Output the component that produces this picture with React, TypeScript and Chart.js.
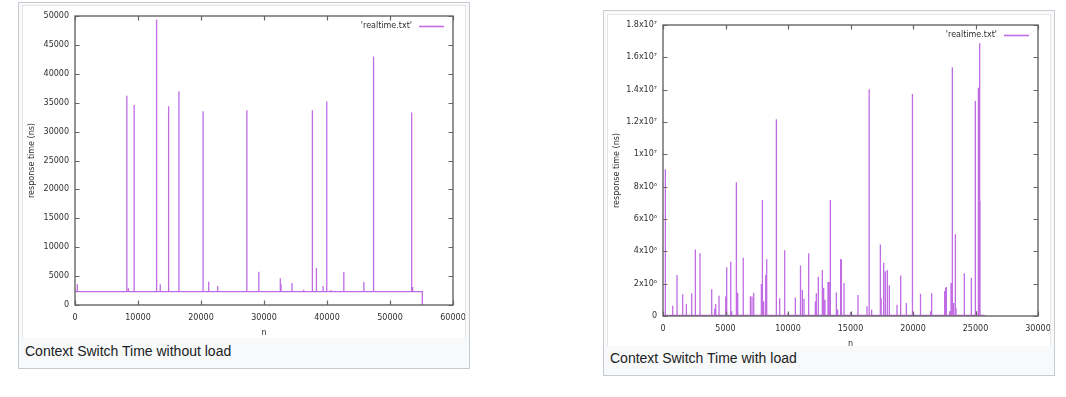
import React, { useEffect, useRef } from 'react';
import { Chart, registerables } from 'chart.js';

Chart.register(...registerables);

// ---------- Data: "Context Switch Time without load" ----------
const LEFT_SPIKE_N = [0, 370, 8230, 8490, 9390, 12950, 13530, 14860, 16500, 20330, 21220, 22650, 27280, 29180, 32590, 32700, 34440, 36300, 37680, 38320, 39370, 39960, 40650, 42670, 45850, 47340, 47420, 48350, 49570, 53440, 53600];
const LEFT_SPIKE_NS = [2800, 3580, 36200, 2900, 34600, 49400, 3600, 34400, 37000, 33500, 4030, 3290, 33700, 5760, 4610, 3600, 3800, 2650, 33700, 6400, 3300, 35200, 2600, 5700, 4000, 43000, 33400, 2400, 2400, 33300, 3100];
const LEFT_BASELINE_NS = 2300;
const LEFT_LAST_N = 55130;
const LEFT_X_TICKS = ['0', '10000', '20000', '30000', '40000', '50000', '60000'];
const LEFT_Y_TICKS = ['0', '5000', '10000', '15000', '20000', '25000', '30000', '35000', '40000', '45000', '50000'];

// ---------- Data: "Context Switch Time with load" ----------
const RIGHT_SPIKE_N = [190, 776, 1120, 1576, 1870, 2296, 2590, 2960, 3896, 4136, 4216, 4480, 5016, 5096, 5416, 5500, 5870, 5976, 6400, 6432, 6992, 7120, 7256, 7870, 7952, 8056, 8216, 8296, 9070, 9336, 9736, 10000, 10587, 10980, 11013, 11147, 11280, 11653, 12187, 12267, 12427, 12747, 12853, 12960, 13200, 13280, 13387, 13867, 13973, 14213, 14270, 14480, 15013, 15600, 16320, 16480, 16500, 16693, 17387, 17450, 17653, 17787, 17947, 18107, 18720, 19013, 19467, 19947, 19960, 20600, 21413, 21493, 22533, 22613, 22667, 22933, 23040, 23147, 23250, 23387, 23440, 24107, 24667, 24987, 25080, 25200, 25253, 25333, 25360];
const RIGHT_SPIKE_NS = [9.07e6, 0.64e6, 2.54e6, 1.34e6, 0.74e6, 1.4e6, 4.12e6, 3.88e6, 1.65e6, 0.45e6, 0.74e6, 1.26e6, 1.2e6, 3.01e6, 3.36e6, 0.3e6, 8.27e6, 1.44e6, 0.6e6, 3.61e6, 1.22e6, 1.2e6, 1.44e6, 1.98e6, 7.18e6, 0.9e6, 2.54e6, 3.53e6, 1.217e7, 1.1e6, 4.06e6, 0.2e6, 1.15e6, 0.4e6, 3.12e6, 1.61e6, 1.07e6, 3.88e6, 0.9e6, 1.4e6, 2.43e6, 2.85e6, 1.74e6, 1.0e6, 2.1e6, 2.1e6, 7.18e6, 1.46e6, 0.4e6, 3.53e6, 3.5e6, 2.04e6, 0.25e6, 1.3e6, 0.6e6, 1.402e7, 9.59e6, 0.4e6, 4.43e6, 1.1e6, 3.3e6, 2.77e6, 2.85e6, 1.9e6, 0.7e6, 2.5e6, 0.8e6, 1.373e7, 4.3e6, 1.38e6, 0.3e6, 1.4e6, 1.55e6, 1.74e6, 1.8e6, 0.3e6, 2.04e6, 1.538e7, 0.8e6, 5.05e6, 0.5e6, 2.64e6, 2.36e6, 1.33e7, 0.3e6, 2.4e6, 1.412e7, 1.687e7, 7.1e6];
const RIGHT_BASELINE_NS = 30000;
const RIGHT_LAST_N = 25733;
const RIGHT_X_TICKS = ['0', '5000', '10000', '15000', '20000', '25000', '30000'];
const RIGHT_Y_TICKS = ['0', '2x10⁶', '4x10⁶', '6x10⁶', '8x10⁶', '1x10⁷', '1.2x10⁷', '1.4x10⁷', '1.6x10⁷', '1.8x10⁷'];

const SERIES_LABEL = "'realtime.txt'";
const LINE_COLOR = 'rgba(148, 0, 211, 0.58)';
const TEXT_COLOR = '#2e2e2e';
const AXIS_FONT = { family: '"DejaVu Sans", sans-serif', size: 8 };

function buildSeries(xs: number[], ys: number[], base: number, lastN: number, dropToZero: boolean) {
  const pts: { x: number; y: number }[] = [{ x: 0, y: base }];
  xs.forEach((x, i) => {
    pts.push({ x, y: base }, { x, y: ys[i] }, { x, y: base });
  });
  pts.push({ x: lastN, y: base });
  if (dropToZero) pts.push({ x: lastN, y: 0 });
  return pts;
}

const gnuplotFrame = {
  id: 'gnuplotFrame',
  afterDraw(chart: any) {
    const { ctx, chartArea, scales } = chart;
    const { left, right, top, bottom } = chartArea;
    const xs = scales.x;
    const ys = scales.y;
    const tl = 4.5;
    ctx.save();
    ctx.strokeStyle = '#666666';
    ctx.lineWidth = 1.2;
    ctx.beginPath();
    xs.ticks.forEach((t: any) => {
      const px = Math.round(xs.getPixelForValue(t.value)) + 0.5;
      ctx.moveTo(px, bottom);
      ctx.lineTo(px, bottom - tl);
      ctx.moveTo(px, top);
      ctx.lineTo(px, top + tl);
    });
    ys.ticks.forEach((t: any) => {
      const py = Math.round(ys.getPixelForValue(t.value)) + 0.5;
      ctx.moveTo(left, py);
      ctx.lineTo(left + tl, py);
      ctx.moveTo(right, py);
      ctx.lineTo(right - tl, py);
    });
    ctx.stroke();
    ctx.lineWidth = 1.4;
    ctx.strokeRect(left, top, right - left, bottom - top);

    const ds = chart.data.datasets[0];
    const ly = top + 10;
    ctx.font = '8px "DejaVu Sans", sans-serif';
    ctx.fillStyle = TEXT_COLOR;
    ctx.textAlign = 'right';
    ctx.textBaseline = 'middle';
    ctx.fillText(ds.label, right - 41, ly);
    ctx.strokeStyle = ds.borderColor;
    ctx.lineWidth = 1.6;
    ctx.beginPath();
    ctx.moveTo(right - 34, ly + 0.5);
    ctx.lineTo(right - 9, ly + 0.5);
    ctx.stroke();
    ctx.restore();
  },
};

interface Spec {
  points: { x: number; y: number }[];
  xMax: number;
  xStep: number;
  xLabels: string[];
  yMax: number;
  yStep: number;
  yLabels: string[];
  yAxisWidth: number;
  xAxisHeight: number;
  yTitlePad: number;
  xTitlePad: number;
  xTickPad: number;
  width: number;
  height: number;
}

function makeConfig(s: Spec): any {
  return {
    type: 'line',
    data: {
      datasets: [
        {
          label: SERIES_LABEL,
          data: s.points,
          borderColor: LINE_COLOR,
          borderWidth: 1.3,
          pointRadius: 0,
          tension: 0,
          fill: false,
        },
      ],
    },
    options: {
      animation: false,
      responsive: false,
      maintainAspectRatio: false,
      devicePixelRatio: 1,
      layout: { padding: { left: 0, top: 11, right: s.width - 431, bottom: 0 } },
      plugins: { legend: { display: false }, tooltip: { enabled: false } },
      scales: {
        x: {
          type: 'linear',
          min: 0,
          max: s.xMax,
          grid: { display: false, drawTicks: false, tickLength: 0 },
          border: { display: false },
          ticks: {
            stepSize: s.xStep,
            autoSkip: false,
            maxRotation: 0,
            padding: s.xTickPad,
            color: TEXT_COLOR,
            font: AXIS_FONT,
            callback: (_v: any, i: number) => s.xLabels[i],
          },
          title: { display: true, text: 'n', color: TEXT_COLOR, font: AXIS_FONT, padding: { top: 0, bottom: s.xTitlePad } },
          afterFit: (sc: any) => {
            sc.height = s.xAxisHeight;
          },
        },
        y: {
          type: 'linear',
          min: 0,
          max: s.yMax,
          grid: { display: false, drawTicks: false, tickLength: 0 },
          border: { display: false },
          ticks: {
            stepSize: s.yStep,
            autoSkip: false,
            padding: 6,
            color: TEXT_COLOR,
            font: AXIS_FONT,
            callback: (_v: any, i: number) => s.yLabels[i],
          },
          title: { display: true, text: 'response time (ns)', color: TEXT_COLOR, font: AXIS_FONT, padding: { top: s.yTitlePad, bottom: 0 } },
          afterFit: (sc: any) => {
            sc.width = s.yAxisWidth;
          },
        },
      },
    },
    plugins: [gnuplotFrame],
  };
}

const LEFT_SPEC: Spec = {
  points: buildSeries(LEFT_SPIKE_N, LEFT_SPIKE_NS, LEFT_BASELINE_NS, LEFT_LAST_N, true),
  xMax: 60000,
  xStep: 10000,
  xLabels: LEFT_X_TICKS,
  yMax: 50000,
  yStep: 5000,
  yLabels: LEFT_Y_TICKS,
  yAxisWidth: 53,
  xAxisHeight: 33,
  yTitlePad: 5,
  xTitlePad: 0,
  xTickPad: 8,
  width: 470,
  height: 333,
};

const RIGHT_SPEC: Spec = {
  points: buildSeries(RIGHT_SPIKE_N, RIGHT_SPIKE_NS, RIGHT_BASELINE_NS, RIGHT_LAST_N, false),
  xMax: 30000,
  xStep: 5000,
  xLabels: RIGHT_X_TICKS,
  yMax: 1.8e7,
  yStep: 2e6,
  yLabels: RIGHT_Y_TICKS,
  yAxisWidth: 56,
  xAxisHeight: 43,
  yTitlePad: 5,
  xTitlePad: 10,
  xTickPad: 8,
  width: 470,
  height: 345,
};

function GnuplotChart({ spec }: { spec: Spec }) {
  const ref = useRef<HTMLCanvasElement | null>(null);
  useEffect(() => {
    if (!ref.current) return;
    const chart = new Chart(ref.current, makeConfig(spec));
    return () => chart.destroy();
  }, [spec]);
  return (
    <canvas
      ref={ref}
      width={spec.width}
      height={spec.height}
      style={{ display: 'block', width: spec.width, height: spec.height }}
    />
  );
}

const frameStyle: React.CSSProperties = {
  position: 'absolute',
  boxSizing: 'border-box',
  border: '1px solid #c8ccd1',
  background: '#f8f9fa',
};

const imageStyle: React.CSSProperties = {
  position: 'absolute',
  boxSizing: 'border-box',
  background: '#ffffff',
  overflow: 'hidden',
  borderLeft: '1px solid #e6e6e6',
  borderRight: '1px solid #e6e6e6',
  borderTop: '1px solid #e6e6e6',
};

const captionStyle: React.CSSProperties = {
  position: 'absolute',
  fontFamily: '"Liberation Sans", Arial, sans-serif',
  fontSize: 14,
  lineHeight: '16px',
  color: '#202122',
  whiteSpace: 'nowrap',
};

export default function App() {
  return (
    <div style={{ position: 'absolute', left: 0, top: 0, width: 1066, height: 397, background: '#ffffff', overflow: 'hidden' }}>
      <div style={{ ...frameStyle, left: 18, top: 2, width: 452, height: 367 }} />
      <div style={{ ...imageStyle, left: 22, top: 5, width: 444, height: 333 }}>
        <div style={{ position: 'absolute', left: -1, top: -1 }}>
          <GnuplotChart spec={LEFT_SPEC} />
        </div>
      </div>
      <div style={{ ...captionStyle, left: 25, top: 343 }}>Context Switch Time without load</div>

      <div style={{ ...frameStyle, left: 603, top: 10, width: 452, height: 366 }} />
      <div style={{ ...imageStyle, left: 607, top: 14, width: 444, height: 332 }}>
        <div style={{ position: 'absolute', left: -1, top: -1 }}>
          <GnuplotChart spec={RIGHT_SPEC} />
        </div>
      </div>
      <div style={{ ...captionStyle, left: 610, top: 350 }}>Context Switch Time with load</div>
    </div>
  );
}
